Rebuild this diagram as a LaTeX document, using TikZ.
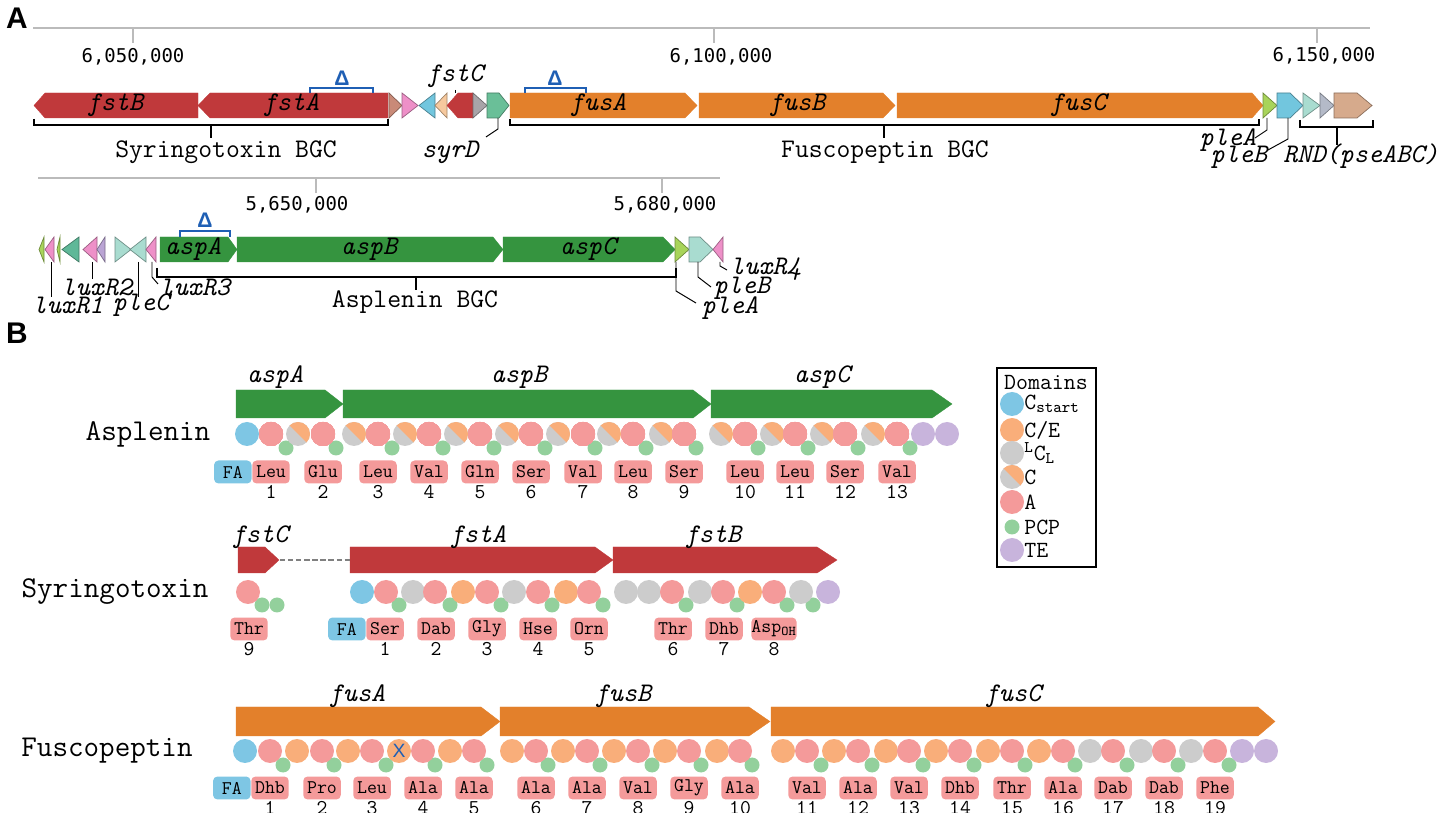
\documentclass[tikz,border=0pt]{standalone}
\usepackage{fontspec}
\newfontfamily\rulerfont{DejaVu Sans Mono}
\newfontfamily\panelfont{Liberation Sans}
\definecolor{fstred}{HTML}{C0393B}
\definecolor{fusorg}{HTML}{E3802B}
\definecolor{aspgrn}{HTML}{35943F}
\definecolor{adom}{HTML}{F49A9A}
\definecolor{cedom}{HTML}{F9AE7A}
\definecolor{lcldom}{HTML}{CCCCCC}
\definecolor{cstdom}{HTML}{7EC6E4}
\definecolor{pcpdom}{HTML}{93D09C}
\definecolor{tedom}{HTML}{C8B4DC}
\definecolor{rulegray}{HTML}{BBBBBB}
\definecolor{delblue}{HTML}{1F5FB4}
\definecolor{gbrown}{HTML}{C98A78}
\definecolor{gpink}{HTML}{EE90C8}
\definecolor{gcyan}{HTML}{72C6DE}
\definecolor{gpeach}{HTML}{F6C99E}
\definecolor{ggray}{HTML}{A8A4A8}
\definecolor{gteal}{HTML}{6ABF98}
\definecolor{gdteal}{HTML}{5FB898}
\definecolor{glime}{HTML}{A8D45A}
\definecolor{gpale}{HTML}{A9DCD0}
\definecolor{gslate}{HTML}{B4BAC8}
\definecolor{gtan}{HTML}{D6AA8C}
\definecolor{glav}{HTML}{BAA4D4}
\newcommand{\gfont}{\fontsize{15.3}{16}\selectfont\ttfamily}
\newcommand{\rowfont}{\fontsize{17.2}{18}\selectfont\ttfamily}
\newcommand{\rulerfnt}{\fontsize{10.8}{12}\selectfont\rulerfont}
\newcommand{\aafont}{\fontsize{11}{11}\selectfont\ttfamily}
\newcommand{\numfont}{\fontsize{12}{12}\selectfont\ttfamily}
\newcommand{\legfont}{\fontsize{13.2}{14}\selectfont\ttfamily}
\newcommand{\deltafont}{\fontsize{12}{12}\selectfont\panelfont\bfseries}
% gene arrows: x1, x2, top, bottom, tip, style
\newcommand{\geneR}[6]{\filldraw[#6] (#1,#3) -- ({#2-#5},#3) -- (#2,{(#3+#4)/2}) -- ({#2-#5},#4) -- (#1,#4) -- cycle;}
\newcommand{\geneL}[6]{\filldraw[#6] (#2,#3) -- ({#1+#5},#3) -- (#1,{(#3+#4)/2}) -- ({#1+#5},#4) -- (#2,#4) -- cycle;}
\newcommand{\csplit}[2]{\begin{scope}\clip (#1,#2) circle [radius=12];
  \fill[lcldom] ({#1-12},{#2-12}) rectangle ({#1+12},{#2+12});
  \fill[cedom] ({#1-13},{#2-13}) -- ({#1+13},{#2-13}) -- ({#1+13},{#2+13}) -- cycle;\end{scope}}
\tikzset{bgene/.style={fill=#1,draw=#1,line width=0.2pt},
  sgene/.style={fill=#1,draw=#1!65!black,line width=0.4pt}}
\begin{document}
\begin{tikzpicture}[x=0.02cm,y=-0.02cm]
  \tikzstyle{rule}=[draw=rulegray,line width=1.1pt]
  \tikzstyle{brk}=[draw=black,line width=0.8pt]
  \tikzstyle{lead}=[draw=black,line width=0.55pt]
  \tikzstyle{del}=[draw=delblue,line width=0.8pt]
  \tikzstyle{gname}=[font=\gfont\itshape,inner sep=0pt]
  \tikzstyle{bgc}=[font=\gfont,inner sep=0pt]
  \tikzstyle{poslbl}=[font=\rulerfnt,inner sep=0pt]
  \tikzstyle{panel}=[font=\fontsize{17}{18}\selectfont\panelfont\bfseries,inner sep=0pt]
  \tikzstyle{rowname}=[font=\rowfont,inner sep=0pt]
  \tikzstyle{aabox}=[fill=adom,rounded corners=2.5pt,minimum width=0.75cm,minimum height=0.46cm,inner sep=0pt,font=\aafont]
  \tikzstyle{fabox}=[aabox,fill=cstdom]
  \tikzstyle{aanum}=[font=\numfont,inner sep=0pt]
  \tikzstyle{legtext}=[font=\legfont,inner sep=0pt,anchor=west]
  \useasboundingbox (0,0) rectangle (1437,813);

  \node[panel] (pA) at (17,18) {A};
  \node[panel] (pB) at (17,333) {B};

  % fuscopeptin / syringotoxin locus
  \draw[rule] (33,28) -- (1370,28);
  \foreach \x in {133,714,1317} \draw[rule] (\x,28) -- (\x,43);
  \node[poslbl] (t1) at (133,57) {6,050,000};
  \node[poslbl] (t2) at (721,57) {6,100,000};
  \node[poslbl] (t3) at (1324,56) {6,150,000};

  \geneL{34}{198}{93}{118}{11}{bgene=fstred}
  \geneL{198}{388}{93}{118}{12}{bgene=fstred}
  \geneR{389}{402}{93}{118}{13}{sgene=gbrown}
  \geneR{402}{418}{93}{118}{16}{sgene=gpink}
  \geneL{419}{435}{93}{118}{16}{sgene=gcyan}
  \geneL{435}{447}{93}{118}{12}{sgene=gpeach}
  \geneL{447}{473}{93}{118}{11}{bgene=fstred}
  \geneR{473}{487}{93}{118}{14}{sgene=ggray}
  \geneR{487}{509}{93}{118}{10}{sgene=gteal}
  \geneR{510}{697}{93}{118}{12}{bgene=fusorg}
  \geneR{699}{895}{93}{118}{12}{bgene=fusorg}
  \geneR{897}{1263}{93}{118}{11}{bgene=fusorg}
  \geneR{1263}{1277}{93}{118}{14}{sgene=glime}
  \geneR{1277}{1303}{93}{118}{13}{sgene=gcyan}
  \geneR{1303}{1320}{93}{118}{17}{sgene=gpale}
  \geneR{1320}{1334}{93}{118}{14}{sgene=gslate}
  \geneR{1334}{1372}{93}{118}{15}{sgene=gtan}

  \node[gname] (fstB) at (115,105) {fstB};
  \node[gname] (fstA) at (291,105) {fstA};
  \node[gname] (fusA) at (598,105) {fusA};
  \node[gname] (fusB) at (797,105) {fusB};
  \node[gname] (fusC) at (1078,105) {fusC};

  \draw[del] (310,93) -- (310,88) -- (373,88) -- (373,93);
  \node[font=\deltafont,text=delblue,inner sep=0pt] (dfst) at (342,78) {Δ};
  \draw[del] (525,93) -- (525,88) -- (586,88) -- (586,93);
  \node[font=\deltafont,text=delblue,inner sep=0pt] (dfus) at (555,78) {Δ};

  \node[gname] (fstCl) at (455,76) {fstC};
  \coordinate (fstCg) at (455,93);
  \draw[lead] (fstCl.south) ++(0,2) -- (fstCg);

  \draw[brk] (34,119) -- (34,125) -- (388,125) -- (388,119);
  \node[bgc] (syrbgc) at (226,152) {Syringotoxin BGC};
  \draw[brk] (211,125) -- (211,138);
  \draw[brk] (510,119) -- (510,125) -- (1259,125) -- (1259,119);
  \node[bgc] (fusbgc) at (885,152) {Fuscopeptin BGC};
  \draw[brk] (884,125) -- (884,138);
  \draw[brk] (1300,120) -- (1300,127) -- (1373,127) -- (1373,120);
  \draw[brk] (1337,127) -- (1337,145);
  \node[gname,anchor=west] (rnd) at (1283,156) {RND(pseABC)};

  \coordinate (syrDg) at (498,118);
  \node[gname] (syrD) at (450,152) {syrD};
  \draw[lead] (syrDg) -- ++(0,11) -- ++(-12,8);
  \coordinate (pleAg) at (1267,118);
  \node[gname] (pleA1) at (1228,140) {pleA};
  \draw[lead] (pleAg) -- ++(0,12) -- ++(-12,8);
  \coordinate (pleBg) at (1288,118);
  \node[gname] (pleB1) at (1239,157) {pleB};
  \draw[lead] (pleBg) -- ++(0,21) -- ++(-20,11);

  % asplenin locus
  \draw[rule] (38,178) -- (720,178);
  \foreach \x in {316,662} \draw[rule] (\x,178) -- (\x,193);
  \node[poslbl] (t4) at (297,205) {5,650,000};
  \node[poslbl] (t5) at (665,205) {5,680,000};

  \geneL{39}{44}{237}{262}{5}{sgene=glime}
  \geneL{45}{54}{237}{262}{9}{sgene=gpink}
  \geneL{57}{60}{237}{262}{3}{sgene=glime}
  \geneL{62}{79}{237}{262}{17}{sgene=gdteal}
  \geneL{83}{97}{237}{262}{14}{sgene=gpink}
  \geneL{97}{105}{237}{262}{8}{sgene=glav}
  \geneR{115}{131}{237}{262}{16}{sgene=gpale}
  \geneL{130}{146}{237}{262}{16}{sgene=gpale}
  \geneL{146}{156}{237}{262}{10}{sgene=gpink}
  \geneR{160}{237}{237}{262}{9}{bgene=aspgrn}
  \geneR{237}{503}{237}{262}{10}{bgene=aspgrn}
  \geneR{503}{675}{237}{262}{12}{bgene=aspgrn}
  \geneR{675}{689}{237}{262}{14}{sgene=glime}
  \geneR{689}{713}{237}{262}{13}{sgene=gpale}
  \geneL{713}{723}{237}{262}{10}{sgene=gpink}

  \node[gname] (aspA1) at (193,249) {aspA};
  \node[gname] (aspB1) at (369,249) {aspB};
  \node[gname] (aspC1) at (588,249) {aspC};

  \draw[del] (180,237) -- (180,231) -- (230,231) -- (230,237);
  \node[font=\deltafont,text=delblue,inner sep=0pt] (dasp) at (205,220) {Δ};

  \draw[brk] (157,268) -- (157,277) -- (676,277) -- (676,268);
  \draw[brk] (416,277) -- (416,290);
  \node[bgc] (aspbgc) at (415,302) {Asplenin BGC};

  \coordinate (luxR1g) at (51,262);
  \node[gname] (luxR1) at (68,305) {luxR1};
  \draw[lead] (luxR1g) -- ++(0,35);
  \coordinate (luxR2g) at (92,262);
  \node[gname] (luxR2) at (97,287) {luxR2};
  \draw[lead] (luxR2g) -- ++(0,17);
  \coordinate (pleCg) at (138,262);
  \node[gname] (pleC) at (141,305) {pleC};
  \draw[lead] (pleCg) -- ++(0,35);
  \coordinate (luxR3g) at (152,262);
  \node[gname] (luxR3) at (195,287) {luxR3};
  \draw[lead] (luxR3g) -- ++(0,15) -- ++(6,7);
  \coordinate (luxR4g) at (720,262);
  \node[gname,anchor=west] (luxR4) at (730,269) {luxR4};
  \draw[lead] (luxR4g) -- ++(0,4) -- ++(7,4);
  \coordinate (pleBg2) at (698,262);
  \node[gname] (pleB2) at (742,288) {pleB};
  \draw[lead] (pleBg2) -- ++(0,15) -- ++(13,10);
  \coordinate (pleAg2) at (676,262);
  \node[gname] (pleA2) at (730,308) {pleA};
  \draw[lead] (pleAg2) -- ++(0,29) -- ++(20,12);

  % asplenin assembly line
  \node[rowname] (asplenin) at (148,434) {Asplenin};
  \geneR{236}{343}{390}{418}{18}{bgene=aspgrn}
  \geneR{343}{711}{390}{418}{18}{bgene=aspgrn}
  \geneR{711}{952}{390}{418}{20}{bgene=aspgrn}
  \node[gname] (aspA) at (275,377) {aspA};
  \node[gname] (aspB) at (519,377) {aspB};
  \node[gname] (aspC) at (822,377) {aspC};
  \foreach \x in {286,336,392,443,494,545,595,646,696,758,808,858,910}
    \fill[pcpdom] (\x,448) circle [radius=7.5];
  \fill[cstdom] (247,434) circle [radius=12];
  \foreach \x in {298,354,405,456,507,558,609,661,721,772,822,873} \csplit{\x}{434}
  \foreach \x in {271,323,378,429,480,531,583,633,684,745,795,845,897}
    \fill[adom] (\x,434) circle [radius=12];
  \foreach \x in {923,947} \fill[tedom] (\x,434) circle [radius=12];
  \foreach \x/\aa/\n in {271/Leu/1,323/Glu/2,378/Leu/3,429/Val/4,480/Gln/5,531/Ser/6,583/Val/7,
      633/Leu/8,684/Ser/9,745/Leu/10,795/Leu/11,845/Ser/12,897/Val/13} {
    \node[aabox] (aspaa\n) at (\x,472) {\aa};
    \node[aanum] (aspn\n) at (\x,492) {\n};
  }
  \node[fabox,anchor=east] (aspfa) at (aspaa1.west) {FA};

  % syringotoxin assembly line
  \node[rowname] (syringotoxin) at (115,592) {Syringotoxin};
  \geneR{238}{279}{547}{573}{14}{bgene=fstred}
  \geneR{350}{613}{547}{573}{18}{bgene=fstred}
  \geneR{613}{837}{547}{573}{20}{bgene=fstred}
  \coordinate (fstCend) at (280,560);
  \coordinate (fstAbeg) at (350,560);
  \draw[draw=gray,line width=1.2pt,dash pattern=on 3pt off 1.6pt] (fstCend) -- (fstAbeg);
  \node[gname] (fstC) at (260,537) {fstC};
  \node[gname] (fstA2) at (478,537) {fstA};
  \node[gname] (fstB2) at (713,537) {fstB};
  \foreach \x in {262,277,399,450,501,552,603,686,737,787,813}
    \fill[pcpdom] (\x,605) circle [radius=7.5];
  \fill[cstdom] (362,592) circle [radius=12];
  \foreach \x in {413,514,626,649,700,801} \fill[lcldom] (\x,592) circle [radius=12];
  \foreach \x in {463,566,750} \fill[cedom] (\x,592) circle [radius=12];
  \foreach \x in {248,386,435,487,538,589,672,723,774} \fill[adom] (\x,592) circle [radius=12];
  \fill[tedom] (828,592) circle [radius=12];
  \foreach \x/\aa/\n in {249/Thr/9,385/Ser/1,436/Dab/2,487/Gly/3,538/Hse/4,589/Orn/5,
      673/Thr/6,724/Dhb/7,774/Asp\textsubscript{OH}/8} {
    \node[aabox] (fstaa\n) at (\x,629) {\aa};
    \node[aanum] (fstn\n) at (\x,649) {\n};
  }
  \node[fabox,anchor=east] (fstfa) at (fstaa1.west) {FA};

  % fuscopeptin assembly line
  \node[rowname] (fuscopeptin) at (107,751) {Fuscopeptin};
  \geneR{236}{500}{707}{736}{19}{bgene=fusorg}
  \geneR{500}{770}{707}{736}{21}{bgene=fusorg}
  \geneR{771}{1275}{707}{736}{17}{bgene=fusorg}
  \node[gname] (fusA2) at (357,696) {fusA};
  \node[gname] (fusB2) at (623,696) {fusB};
  \node[gname] (fusC2) at (1013,696) {fusC};
  \foreach \x in {283,334,386,435,487,548,600,652,701,752,821,872,923,974,1025,1075,1127,1178,1229}
    \fill[pcpdom] (\x,765) circle [radius=7.5];
  \fill[cstdom] (245,751) circle [radius=12];
  \foreach \x in {297,348,399,450,512,563,614,665,717,783,834,886,936,988,1039}
    \fill[cedom] (\x,751) circle [radius=12];
  \foreach \x in {1090,1141,1191} \fill[lcldom] (\x,751) circle [radius=12];
  \foreach \x in {270,322,372,423,474,536,587,638,689,740,807,858,909,960,1012,1063,1113,1164,1215}
    \fill[adom] (\x,751) circle [radius=12];
  \foreach \x in {1242,1266} \fill[tedom] (\x,751) circle [radius=12];
  \node[text=delblue,font=\fontsize{11}{11}\selectfont\panelfont,inner sep=0pt] (xmark) at (399,751) {X};
  \foreach \x/\aa/\n in {270/Dhb/1,322/Pro/2,372/Leu/3,423/Ala/4,474/Ala/5,536/Ala/6,587/Ala/7,
      638/Val/8,689/Gly/9,740/Ala/10,807/Val/11,858/Ala/12,909/Val/13,960/Dhb/14,1012/Thr/15,
      1063/Ala/16,1113/Dab/17,1164/Dab/18,1215/Phe/19} {
    \node[aabox] (fusaa\n) at (\x,788) {\aa};
    \node[aanum] (fusn\n) at (\x,808) {\n};
  }
  \node[fabox,anchor=east] (fusfa) at (fusaa1.west) {FA};

  % legend
  \draw[line width=0.9pt] (997,368) rectangle (1096,567);
  \node[font=\legfont,inner sep=0pt] (legtitle) at (1046,382) {Domains};
  \fill[cstdom] (1012,404) circle [radius=12];
  \node[legtext] (lcst) at (1024,404) {C\textsubscript{start}};
  \fill[cedom] (1012,430) circle [radius=12];
  \node[legtext] (lce) at (1024,430) {C/E};
  \fill[lcldom] (1012,453) circle [radius=12];
  \node[legtext] (llcl) at (1024,453) {\textsuperscript{L}C\textsubscript{L}};
  \csplit{1012}{477}
  \node[legtext] (lc) at (1024,477) {C};
  \fill[adom] (1012,502) circle [radius=12];
  \node[legtext] (la) at (1024,502) {A};
  \fill[pcpdom] (1012,527) circle [radius=7.5];
  \node[legtext] (lpcp) at (1024,527) {PCP};
  \fill[tedom] (1012,550) circle [radius=12];
  \node[legtext] (lte) at (1024,550) {TE};
\end{tikzpicture}
\end{document}
